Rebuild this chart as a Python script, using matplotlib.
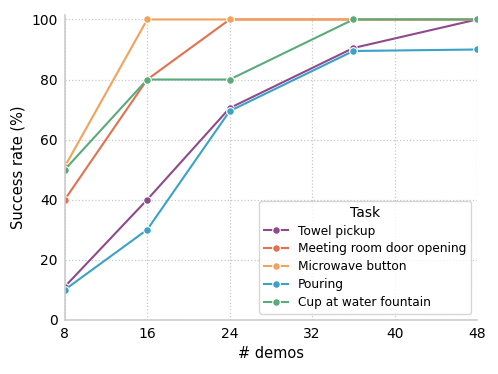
# success rate vs number of demos
from matplotlib import pyplot as plt

demos = [8, 16, 24, 36, 48]
tasks = ['Towel pickup', 'Meeting room door opening', 'Microwave button',
         'Pouring', 'Cup at water fountain']
towel = [11, 40, 70.5, 90.5, 100]
door = [40, 80, 100, 100, 100]
microwave = [51, 100, 100, 100, 100]
pouring = [10, 30, 69.5, 89.5, 90]
cup = [50, 80, 80, 100, 100]
series = [towel, door, microwave, pouring, cup]
colors = ['#8e4a8c', '#e2714f', '#f2a25a', '#3aa2c8', '#5aaa7c']

fig, ax = plt.subplots(figsize=(4.98, 3.74), dpi=100)

for name, vals, c in zip(tasks, series, colors):
    ax.plot(demos, vals, color=c, marker='o', markersize=5.5,
            markeredgecolor='white', markeredgewidth=0.8, linewidth=1.5,
            label=name)

ax.set_xlim(8, 48)
ax.set_ylim(0, 101.5)
ax.set_xticks([8, 16, 24, 32, 40, 48])
ax.set_yticks([0, 20, 40, 60, 80, 100])
ax.grid(True, linestyle=':', color='#c8c8c8', linewidth=0.9)
ax.set_axisbelow(True)
for s in ['top', 'right']:
    ax.spines[s].set_visible(False)
for s in ['left', 'bottom']:
    ax.spines[s].set_color('#cccccc')
    ax.spines[s].set_linewidth(1.2)
ax.tick_params(length=0, labelsize=10, pad=5)

ax.set_xlabel('# demos', fontsize=10.5)
ax.set_ylabel('Success rate (%)', fontsize=10.5)
leg = ax.legend(title='Task', loc='lower right', fontsize=8.7,
                title_fontsize=10, frameon=True, fancybox=True,
                borderaxespad=0.5, labelspacing=0.4, handlelength=2.0)
leg.get_frame().set_edgecolor('#cccccc')

plt.subplots_adjust(left=0.13, right=0.958, top=0.96, bottom=0.145)
plt.savefig('out.png')
